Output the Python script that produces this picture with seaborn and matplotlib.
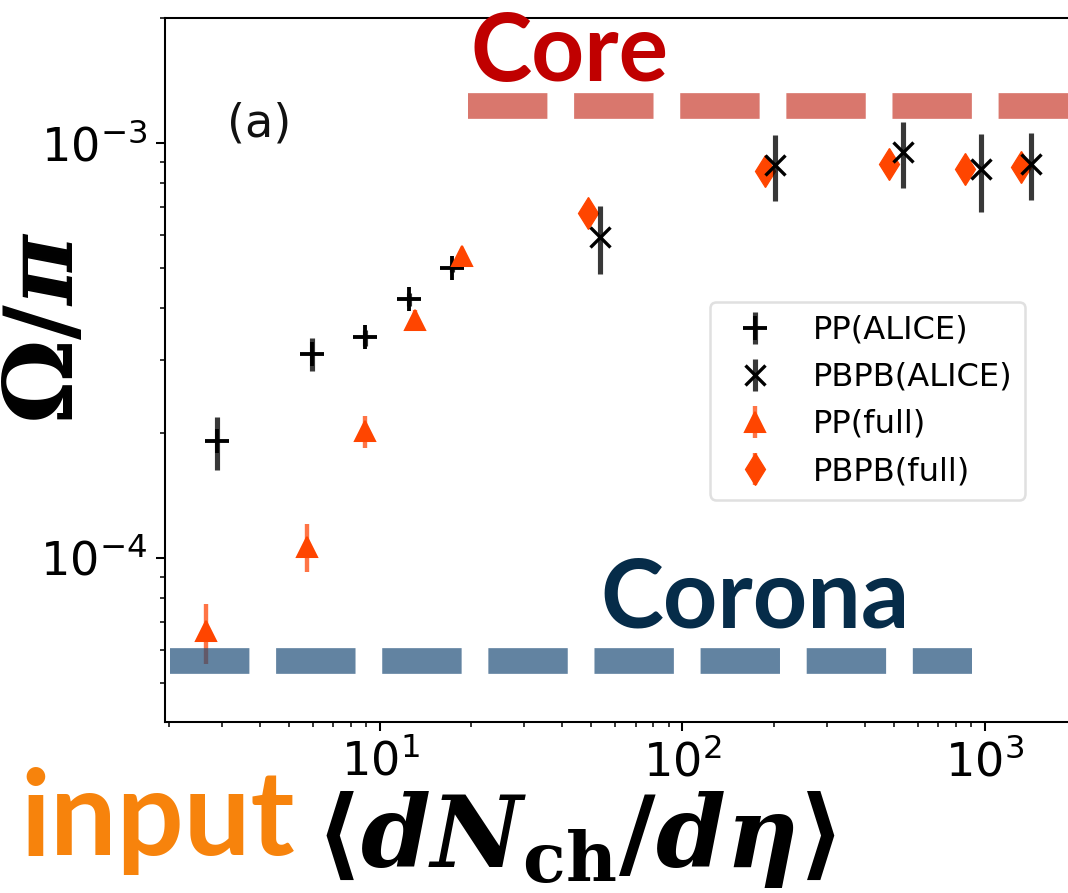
import matplotlib
matplotlib.use("Agg")
import matplotlib.pyplot as plt
import seaborn as sns

# ---------------- data ----------------
pp_alice_x = [2.88, 5.96, 8.90, 12.46, 17.3]
pp_alice_y = [1.91e-4, 3.11e-4, 3.40e-4, 4.21e-4, 5.00e-4]
pp_alice_err = [0.28e-4, 0.28e-4, 0.15e-4, 0.15e-4, 0.10e-4]

pbpb_alice_x = [53.2, 202.0, 536.0, 974.0, 1425.0]
pbpb_alice_y = [5.94e-4, 8.84e-4, 9.51e-4, 8.68e-4, 8.92e-4]
pbpb_alice_err = [1.10e-4, 1.60e-4, 1.70e-4, 1.85e-4, 1.65e-4]

pp_full_x = [2.65, 5.75, 8.90, 13.0, 18.6]
pp_full_y = [6.66e-5, 1.066e-4, 2.02e-4, 3.75e-4, 5.34e-4]
pp_full_err = [1.1e-5, 1.4e-5, 1.8e-5, 2.0e-5, 1.0e-5]

pbpb_full_x = [48.7, 187.0, 482.0, 858.0, 1321.0]
pbpb_full_y = [6.79e-4, 8.55e-4, 8.89e-4, 8.64e-4, 8.76e-4]
pbpb_full_err = [1.0e-5, 1.0e-5, 1.0e-5, 1.0e-5, 1.0e-5]

series_labels = ["PP(ALICE)", "PBPB(ALICE)", "PP(full)", "PBPB(full)"]

core_level = 1.228e-3
core_span = [19.6, 3000.0]
corona_level = 5.65e-5
corona_span = [2.025, 905.0]

x_limits = (1.945, 2495.0)
y_limits = (4.03e-5, 2.0e-3)

# ---------------- style ----------------
sns.set_theme(style="ticks")
plt.rcParams.update({
    "font.family": ["DejaVu Sans"],
    "text.color": "black",
    "axes.edgecolor": "black",
    "axes.linewidth": 0.8,
    "xtick.color": "black",
    "ytick.color": "black",
    "xtick.major.size": 3.5,
    "ytick.major.size": 3.5,
    "xtick.minor.size": 2.0,
    "ytick.minor.size": 2.0,
    "xtick.major.width": 0.8,
    "ytick.major.width": 0.8,
    "xtick.minor.width": 0.6,
    "ytick.minor.width": 0.6,
    "xtick.major.pad": 3.5,
    "ytick.major.pad": 3.5,
    "xtick.labelsize": 18,
    "ytick.labelsize": 18,
    "legend.labelcolor": "black",
    "mathtext.rm": "DejaVu Serif:bold",
    "mathtext.it": "DejaVu Serif:italic:bold",
    "mathtext.bf": "DejaVu Serif:bold",
})

DPI = 185
fig = plt.figure(figsize=(1068 / DPI, 893 / DPI), dpi=DPI)
fig.patch.set_facecolor("white")
ax = fig.add_axes([165 / 1068, 171 / 893, 940 / 1068, 704 / 893])
ax.set_xscale("log")
ax.set_yscale("log")

orange = "#FF4500"
orange_err = (1.0, 0.36, 0.14, 0.85)
black_err = (0.0, 0.0, 0.0, 0.78)

h1 = ax.errorbar(pp_alice_x, pp_alice_y, yerr=pp_alice_err, fmt="+", color="black",
                 ecolor=black_err, elinewidth=2.0, ms=9, mew=1.5, label=series_labels[0],
                 zorder=3)
h3 = ax.errorbar(pp_full_x, pp_full_y, yerr=pp_full_err, fmt="^", color=orange,
                 ecolor=orange_err, elinewidth=1.7, ms=8, mew=0.8, label=series_labels[2],
                 zorder=3.2)
h4 = ax.errorbar(pbpb_full_x, pbpb_full_y, yerr=pbpb_full_err, fmt="d", color=orange,
                 ecolor=orange_err, elinewidth=1.7, ms=9, mew=0.5, label=series_labels[3],
                 zorder=3.3)
h2 = ax.errorbar(pbpb_alice_x, pbpb_alice_y, yerr=pbpb_alice_err, fmt="x", color="black",
                 ecolor=black_err, elinewidth=2.0, ms=8, mew=1.3, label=series_labels[1],
                 zorder=3.5)

# core / corona reference levels as thick dashed bands
band_lw = 10.0
dash_pattern = (0, (30.9 / band_lw, 10.4 / band_lw))
sns.lineplot(x=core_span, y=[core_level, core_level], ax=ax, color="#D9776D",
             linewidth=band_lw, linestyle=dash_pattern, zorder=4, legend=False)
sns.lineplot(x=corona_span, y=[corona_level, corona_level], ax=ax, color="#1F4E79",
             alpha=0.7, linewidth=band_lw, linestyle=dash_pattern, zorder=4, legend=False)

ax.set_xlim(*x_limits)
ax.set_ylim(*y_limits)
ax.set_xlabel("")
ax.set_ylabel("")
ax.tick_params(which="both", direction="out")

ax.text(0.066, 0.85, "(a)", transform=ax.transAxes, fontsize=18, ha="left", va="center",
        color="#111111")

leg = ax.legend([h1, h2, h3, h4], series_labels, loc="upper left",
                bbox_to_anchor=(0.5798, 0.5966), borderaxespad=0, fontsize=12.5,
                frameon=True, fancybox=True, framealpha=0.8, edgecolor="0.85")


def fx(px):
    return px / 1068


def fy(py):
    return 1 - py / 893


# large annotations
fig.text(fx(470), fy(81), "Core", fontsize=36, fontfamily="Lato", fontweight="bold",
         color="#C00000", ha="left", va="baseline", zorder=10)
fig.text(fx(600), fy(628), "Corona", fontsize=37, fontfamily="Lato", fontweight="bold",
         color="#062C49", ha="left", va="baseline", zorder=10)
fig.text(fx(20), fy(855), "input", fontsize=46, fontfamily="Lato", fontweight="bold",
         color="#F7830C", ha="left", va="baseline", zorder=10)

fig.text(fx(47), fy(328), r"$\Omega/\pi$", fontsize=37, rotation=90,
         math_fontfamily="custom", ha="center", va="center", zorder=10)
fig.text(fx(575), fy(840), r"$\langle dN_{\mathrm{ch}}/d\eta\rangle$", fontsize=39,
         math_fontfamily="custom", ha="center", va="center", zorder=10)

fig.savefig("out.png", dpi=DPI, facecolor="white")
